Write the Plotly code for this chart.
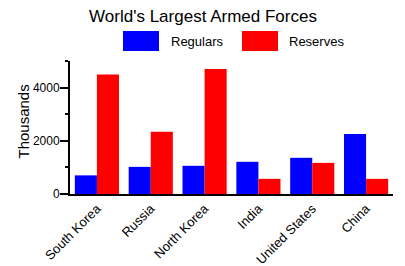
import plotly.graph_objects as go

categories = ["South Korea", "Russia", "North Korea", "India", "United States", "China"]
regulars = [700, 1020, 1060, 1210, 1360, 2260]
reserves = [4490, 2340, 4700, 570, 1170, 570]
series_names = ["Regulars", "Reserves"]
y_ticks = [0, 2000, 4000]
y_title = "Thousands"

FONT = "Liberation Sans, Arial, sans-serif"

# the page body has an 8px default margin: lay out in screen pixels, then shift
OFF = 8
W, H = 405 - OFF, 266 - OFF
L = 70 - OFF
T = 61 - OFF
R = W - (393 - OFF)
B = H - (194 - OFF)
pw, ph = W - L - R, H - T - B

def px(x):
    return (x - OFF - L) / pw

def py(y):
    return (H - B - (y - OFF)) / ph

fig = go.Figure()
fig.add_bar(x=categories, y=regulars, name=series_names[0], marker_color="#0000FF",
            marker_line_width=0, showlegend=False)
fig.add_bar(x=categories, y=reserves, name=series_names[1], marker_color="#FF0000",
            marker_line_width=0, showlegend=False)

# legend drawn as shapes + annotations (large swatches like the reference)
shapes = [
    dict(type="rect", xref="paper", yref="paper", x0=px(123), x1=px(159), y0=py(51), y1=py(31),
         fillcolor="#0000FF", line_width=0),
    dict(type="rect", xref="paper", yref="paper", x0=px(242), x1=px(278), y0=py(51), y1=py(31),
         fillcolor="#FF0000", line_width=0),
]
annotations = [
    dict(text=series_names[0], xref="paper", yref="paper", x=px(169), y=py(41), xanchor="left",
         yanchor="middle", showarrow=False, font=dict(size=13, color="black", family=FONT)),
    dict(text=series_names[1], xref="paper", yref="paper", x=px(287), y=py(41), xanchor="left",
         yanchor="middle", showarrow=False, font=dict(size=13, color="black", family=FONT)),
    dict(text=y_title, xref="paper", yref="paper", x=px(23), y=py(121.5), xanchor="center",
         yanchor="middle", textangle=-90, showarrow=False,
         font=dict(size=15, color="black", family=FONT)),
]

fig.update_layout(
    width=W, height=H,
    margin=dict(l=L, r=R, t=T, b=B, pad=0, autoexpand=False),
    paper_bgcolor="white", plot_bgcolor="white",
    font=dict(family=FONT, color="black", size=12),
    title=dict(text="World's Largest Armed Forces", x=(203 - OFF) / W, xanchor="center",
               y=1 - (16 - OFF) / H, yanchor="middle",
               font=dict(size=17, color="black", family=FONT)),
    barmode="group", bargap=0.18, bargroupgap=0,
    shapes=shapes, annotations=annotations,
    showlegend=False,
)
fig.update_xaxes(showline=True, linecolor="black", linewidth=2, ticks="", tickangle=-45,
                 showgrid=False, automargin=False,
                 tickfont=dict(size=13, family=FONT, color="black"))
fig.update_yaxes(range=[0, 5000], tickvals=y_ticks, showline=True, linecolor="black", linewidth=2,
                 ticks="outside", ticklen=8, tickwidth=2, tickcolor="black", showgrid=False,
                 zeroline=False, automargin=False, ticklabelstandoff=-2,
                 tickfont=dict(size=12, family=FONT, color="black"),
                 minor=dict(dtick=1000, ticks="outside", ticklen=3, tickwidth=2, tickcolor="black",
                            showgrid=False))

fig.write_html("out.html")
